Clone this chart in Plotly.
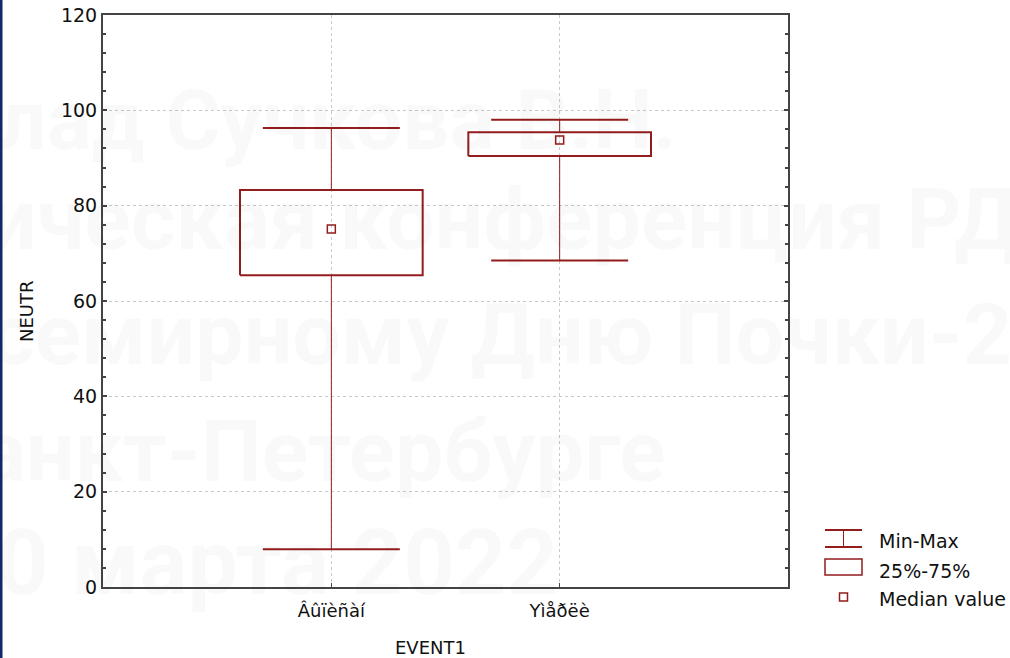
import plotly.graph_objects as go

# ---------------- data ----------------
categories = ["Âûïèñàí", "Yìåðëè"]
min_vals = [7.9, 68.5]
q1_vals = [65.4, 90.4]
median_vals = [75.1, 93.8]
q3_vals = [83.3, 95.4]
max_vals = [96.3, 98.0]

y_tick_step = 20
y_range = [0, 120]
x_title = "EVENT1"
y_title = "NEUTR"
legend_labels = ["Min-Max", "25%-75%", "Median value"]
watermark_lines = [
    "лад Сучкова В.Н.",
    "ическая конференция РД",
    "семирному Дню Почки-2",
    "анкт-Петербурге",
    "0 марта 2022",
]

# ---------------- layout helpers ----------------
W, H = 1010, 658
L, R, T, B = 103, 222, 15, 71
PW = W - L - R
PH = H - T - B


def px(x):
    return (x - L) / PW


def py(y):
    return (H - B - y) / PH


RED = "#931c1c"
AXIS = "#444444"
GRID = "#c8c8c8"
FONT = "DejaVu Sans"

pos = list(range(len(categories)))
BOX_HALF = 0.4
CAP_HALF = 0.3

# box rectangles
bx, by = [], []
for p, a, b in zip(pos, q1_vals, q3_vals):
    bx += [p - BOX_HALF, p + BOX_HALF, p + BOX_HALF, p - BOX_HALF, p - BOX_HALF, None]
    by += [a, a, b, b, a, None]

# whisker stems
wx, wy = [], []
for p, mn, a, b, mx in zip(pos, min_vals, q1_vals, q3_vals, max_vals):
    wx += [p, p, None, p, p, None]
    wy += [mn, a, None, b, mx, None]

# caps
cx, cy = [], []
for p, mn, mx in zip(pos, min_vals, max_vals):
    cx += [p - CAP_HALF, p + CAP_HALF, None, p - CAP_HALF, p + CAP_HALF, None]
    cy += [mn, mn, None, mx, mx, None]

fig = go.Figure()
fig.add_trace(go.Scatter(x=wx, y=wy, mode="lines", line=dict(color=RED, width=1),
                         hoverinfo="skip", showlegend=False))
fig.add_trace(go.Scatter(x=cx, y=cy, mode="lines", line=dict(color=RED, width=2),
                         hoverinfo="skip", showlegend=False))
fig.add_trace(go.Scatter(x=bx, y=by, mode="lines", line=dict(color=RED, width=2),
                         hoverinfo="skip", showlegend=False))
fig.add_trace(go.Scatter(x=pos, y=median_vals, mode="markers",
                         marker=dict(symbol="square-open", size=8, color=RED,
                                     line=dict(width=1.5, color=RED)),
                         showlegend=False))

shapes = []
annotations = []

# left navy strip
shapes.append(dict(type="rect", xref="paper", yref="paper",
                   x0=px(0), x1=px(2.5), y0=py(H), y1=py(0),
                   fillcolor="#10296b", line=dict(width=0), layer="above"))

# custom legend
lx0, lx1, lxc = 825, 862, 843.5
shapes += [
    dict(type="line", xref="paper", yref="paper", x0=px(lx0), x1=px(lx1), y0=py(530), y1=py(530),
         line=dict(color=RED, width=2)),
    dict(type="line", xref="paper", yref="paper", x0=px(lx0), x1=px(lx1), y0=py(547), y1=py(547),
         line=dict(color=RED, width=2)),
    dict(type="line", xref="paper", yref="paper", x0=px(lxc), x1=px(lxc), y0=py(530), y1=py(547),
         line=dict(color=RED, width=1)),
    dict(type="rect", xref="paper", yref="paper", x0=px(lx0), x1=px(lx1), y0=py(575), y1=py(559),
         line=dict(color=RED, width=1.5)),
    dict(type="rect", xref="paper", yref="paper", x0=px(lxc - 4), x1=px(lxc + 4), y0=py(601), y1=py(593),
         line=dict(color=RED, width=1.5)),
]
for label, yc in zip(legend_labels, [541, 571, 599]):
    annotations.append(dict(text=label, xref="paper", yref="paper", x=px(877), y=py(yc),
                            xanchor="left", yanchor="middle", showarrow=False,
                            font=dict(family=FONT, size=19, color="#111111")))

# axis titles
annotations.append(dict(text=x_title, xref="paper", yref="paper", x=px(430), y=py(647),
                        xanchor="center", yanchor="middle", showarrow=False,
                        font=dict(family=FONT, size=18, color="#111111")))
annotations.append(dict(text=y_title, xref="paper", yref="paper", x=px(26), y=py(311),
                        xanchor="center", yanchor="middle", showarrow=False, textangle=-90,
                        font=dict(family=FONT, size=18, color="#111111")))

# watermark
wm_specs = [(-3, 148, 84), (-14, 248, 86), (-12, 363, 86), (-22, 480, 86), (-5, 593, 90)]
for text, (x0, base, size) in zip(watermark_lines, wm_specs):
    annotations.append(dict(text=text, xref="paper", yref="paper", x=px(x0), y=py(base - 0.33 * size),
                            xanchor="left", yanchor="middle", showarrow=False,
                            font=dict(family="Roboto", size=size, color="rgba(0,0,0,0.022)",
                                      weight="bold")))

fig.update_layout(
    width=W, height=H,
    margin=dict(l=L, r=R, t=T, b=B, autoexpand=False),
    paper_bgcolor="white", plot_bgcolor="white",
    showlegend=False,
    shapes=shapes,
    annotations=annotations,
    xaxis=dict(range=[-1, len(categories)], tickvals=pos, ticktext=categories,
               automargin=False,
               showgrid=True, gridcolor=GRID, griddash="dot", gridwidth=1,
               zeroline=False, showline=True, linecolor=AXIS, linewidth=2, mirror=True,
               ticks="inside", ticklen=4, tickcolor=AXIS, tickwidth=1,
               tickfont=dict(family=FONT, size=18, color="#111111"), ticklabelstandoff=6),
    yaxis=dict(range=y_range, dtick=y_tick_step, tick0=0,
               automargin=False,
               showgrid=True, gridcolor=GRID, griddash="dot", gridwidth=1,
               zeroline=False, showline=True, linecolor=AXIS, linewidth=2, mirror="ticks",
               ticks="inside", ticklen=4, tickcolor=AXIS, tickwidth=2,
               minor=dict(dtick=4, ticks="inside", ticklen=3, tickcolor=AXIS, tickwidth=2,
                          showgrid=False),
               tickfont=dict(family=FONT, size=19, color="#111111")),
)

post = ("document.body.style.margin='0';document.body.style.padding='0';"
        "var d=document.getElementById('{plot_id}');"
        "d.style.position='absolute';d.style.left='0px';d.style.top='0px';")
fig.write_html("out.html", post_script=post, config={"displayModeBar": False})
